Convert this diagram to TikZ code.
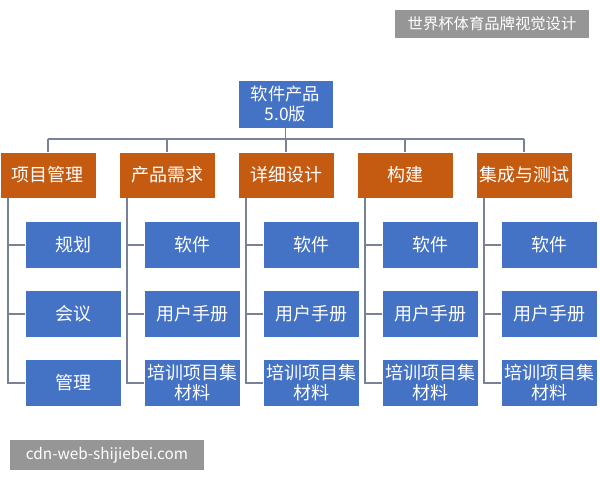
\documentclass[tikz,border=0pt]{standalone}
\usepackage{fontspec}
\setmainfont{Noto Sans CJK SC}
\usetikzlibrary{positioning}
\definecolor{boxblue}{RGB}{68,114,196}
\definecolor{boxorange}{RGB}{197,90,17}
\definecolor{linegray}{RGB}{120,130,150}
\definecolor{markgray}{RGB}{150,150,150}
\tikzset{
    topbox/.style={draw=white, fill=boxblue, text=white, minimum width=71.25pt, minimum height=36pt, inner sep=0pt, align=center, font=\fontsize{13}{14.5}\selectfont},
    headbox/.style={draw=white, fill=boxorange, text=white, minimum width=72pt, minimum height=34.5pt, inner sep=0pt, align=center, font=\fontsize{13.5}{15}\selectfont},
    leafbox/.style={draw=white, fill=boxblue, text=white, minimum width=72pt, minimum height=35pt, inner sep=0pt, align=center, font=\fontsize{13.5}{15}\selectfont},
    tree/.style={draw=linegray, line width=0.9pt},
    markbox/.style={fill=markgray, text=white, inner sep=0pt, font=\fontsize{11.5}{13}\selectfont}
}
\begin{document}
\begin{tikzpicture}[x=0.75pt,y=0.75pt,yscale=-1,xscale=1]
    \useasboundingbox (0,0) rectangle (600,480);

    % watermarks
    \node [markbox, minimum width=146pt, minimum height=21pt] (mark1) at (492,24) {世界杯体育品牌视觉设计};
    \node [markbox, minimum width=146pt, minimum height=22pt] (mark2) at (107,455) {cdn-web-shijiebei.com};

    % root
    \node [topbox] (root) at (285.5,104) {软件产品\\5.0版};
    \coordinate (bar) at (285.5,139);
    \draw [tree] (root.south) -- (bar);

    % heads and leaves
    \foreach \i/\head/\la/\lb/\lc in {0/项目管理/规划/会议/管理, 1/产品需求/软件/用户手册/培训项目集\\材料, 2/详细设计/软件/用户手册/培训项目集\\材料, 3/构建/软件/用户手册/培训项目集\\材料, 4/集成与测试/软件/用户手册/培训项目集\\材料} {
        \pgfmathsetmacro{\xh}{48+119*\i}
        \pgfmathsetmacro{\xl}{73+119*\i}
        \pgfmathsetmacro{\xv}{8+119*\i}
        \node [headbox] (head\i) at (\xh,175) {\head};
        \node [leafbox] (leafa\i) at (\xl,245) {\la};
        \node [leafbox] (leafb\i) at (\xl,314) {\lb};
        \node [leafbox] (leafc\i) at (\xl,383) {\lc};
        \draw [tree] (head\i.north) -- (head\i.north |- bar);
        \coordinate (stem\i) at (\xv,198);
        \draw [tree] (stem\i) |- (leafc\i.west);
        \draw [tree] (stem\i |- leafa\i.west) -- (leafa\i.west);
        \draw [tree] (stem\i |- leafb\i.west) -- (leafb\i.west);
    }
    \draw [tree] (head0.north |- bar) -- (head4.north |- bar);
\end{tikzpicture}
\end{document}
